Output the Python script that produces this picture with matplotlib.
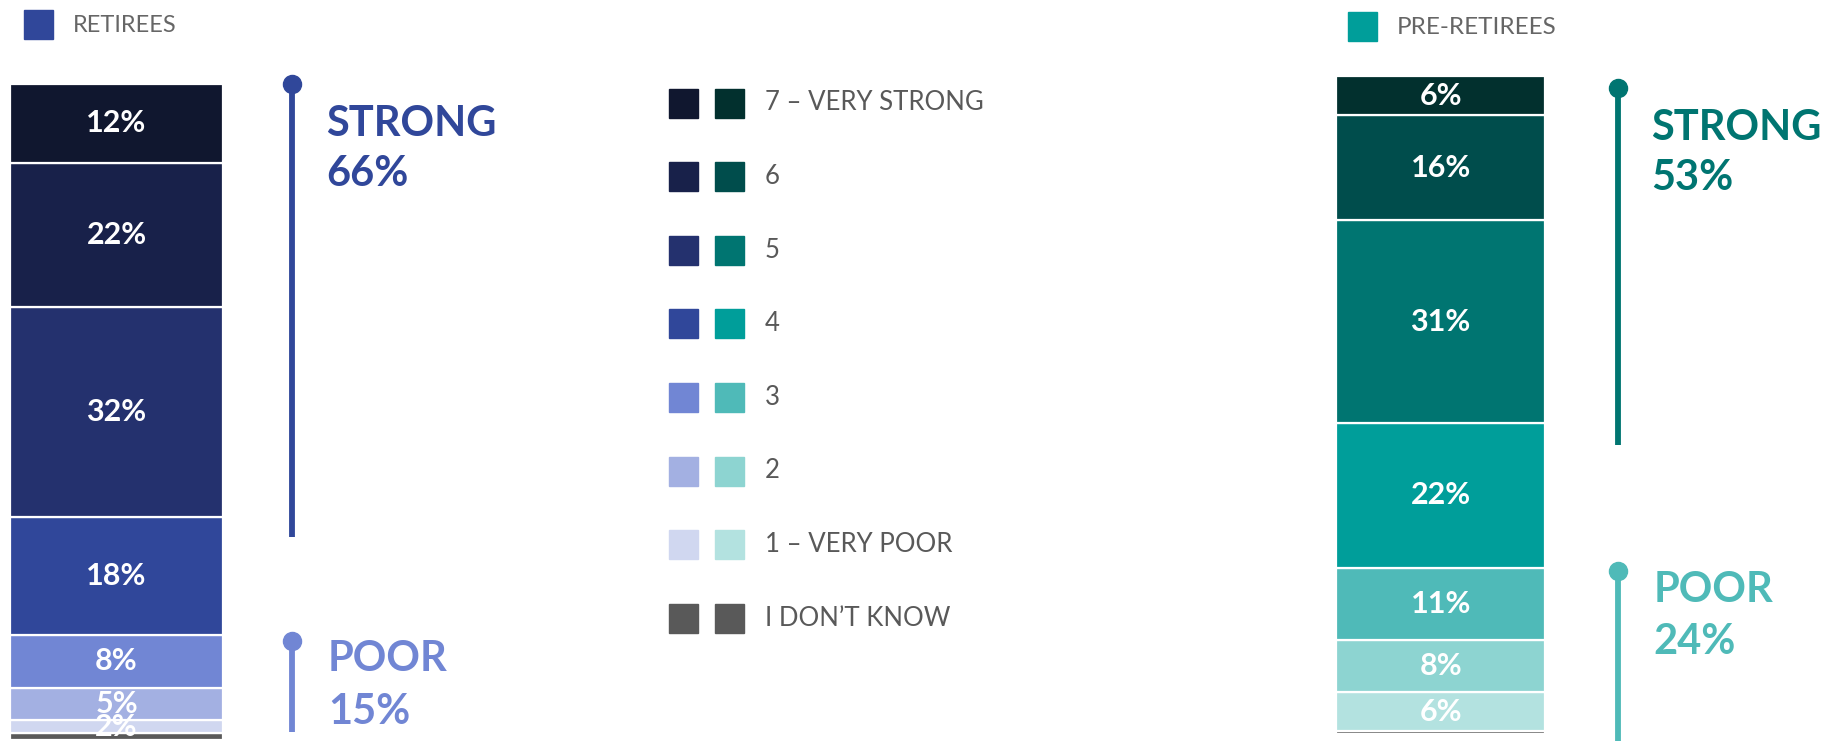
import matplotlib
matplotlib.use("Agg")
from matplotlib import pyplot as plt
from matplotlib.patches import Rectangle

plt.rcParams['font.family'] = ['Lato', 'DejaVu Sans']

# stacked from the bottom: I don't know, 1 .. 7
levels = ["I DON\u2019T KNOW", "1 \u2013 VERY POOR", "2", "3", "4", "5", "6", "7 \u2013 VERY STRONG"]
retirees = [1, 2, 5, 8, 18, 32, 22, 12]
pre_retirees = [0.4, 6, 8, 11, 22, 31, 16, 6]
retiree_colors = ["#595959", "#D0D7F0", "#A3B0E2", "#7186D4", "#30479A", "#24316E", "#18214A", "#10172F"]
pre_colors = ["#595959", "#B3E2E0", "#8DD4D1", "#4FBAB8", "#009E9A", "#007571", "#004D4C", "#02302E"]
strong = {"retirees": 66, "pre": 53}
poor = {"retirees": 15, "pre": 24}

W, H = 1832, 741
fig = plt.figure(figsize=(W / 100, H / 100), dpi=100)


def px_axes(x0, y0, x1, y1):
    # pixel box (top-left origin) -> figure axes
    return fig.add_axes([x0 / W, (H - y1) / H, (x1 - x0) / W, (y1 - y0) / H])


def draw_group(ax, vals, colors, strong_val, poor_val, strong_col, poor_col, bar_w, line_x, dots):
    total = sum(vals)
    bottom = 0
    for i, (v, c) in enumerate(zip(vals, colors)):
        ax.bar(0, v, width=bar_w, bottom=bottom, align='edge', color=c,
               edgecolor='white', linewidth=1.6)
        if i > 0:
            ax.text(bar_w / 2, bottom + v / 2, f"{v}%", color='white', fontsize=22,
                    fontweight='bold', ha='center', va='center')
        bottom += v
    ax.set_xlim(0, 500)
    ax.set_ylim(0, total)
    ax.axis('off')

    s_top, p_top, s_len, p_end = dots
    ax.plot([line_x, line_x], [s_top, s_top - s_len], color=strong_col, lw=4.2,
            solid_capstyle='butt', clip_on=False)
    ax.plot([line_x], [s_top], 'o', color=strong_col, ms=13, clip_on=False)
    ax.text(line_x + 34, s_top - 8, "STRONG", color=strong_col, fontsize=30,
            fontweight='bold', va='baseline', ha='left')
    ax.text(line_x + 34, s_top - 15.6, f"{strong_val}%", color=strong_col, fontsize=30,
            fontweight='bold', va='baseline', ha='left')

    ax.plot([line_x, line_x], [p_top, p_end], color=poor_col, lw=4.2,
            solid_capstyle='butt', clip_on=False)
    ax.plot([line_x], [p_top], 'o', color=poor_col, ms=13, clip_on=False)
    ax.text(line_x + 36, p_top - 4.6, "POOR", color=poor_col, fontsize=30,
            fontweight='bold', va='baseline', ha='left')
    ax.text(line_x + 36, p_top - 12.6, f"{poor_val}%", color=poor_col, fontsize=30,
            fontweight='bold', va='baseline', ha='left')


ax_l = px_axes(10, 84, 510, 740)
draw_group(ax_l, retirees, retiree_colors, strong["retirees"], poor["retirees"],
           retiree_colors[4], retiree_colors[3], 213, 282,
           (100, 15.1, 69, 1.2))

ax_r = px_axes(1336, 76, 1832, 734)
draw_group(ax_r, pre_retirees, pre_colors, strong["pre"], poor["pre"],
           pre_colors[5], pre_colors[3], 211, 284,
           (98.6, 24.8, 54.5, -1.2))

# legend layer in pixel units
lg = fig.add_axes([0, 0, 1, 1])
lg.set_xlim(0, W)
lg.set_ylim(H, 0)
lg.axis('off')

lg.add_patch(Rectangle((24, 10), 29, 29, color=retiree_colors[4]))
lg.text(73, 25, "RETIREES", color='#666666', fontsize=17, va='center', ha='left')
lg.add_patch(Rectangle((1348, 12), 29, 29, color=pre_colors[4]))
lg.text(1397, 27, "PRE-RETIREES", color='#666666', fontsize=17.5, va='center', ha='left')

for row, i in enumerate(range(len(levels) - 1, -1, -1)):
    yc = 103 + row * 73.6
    lg.add_patch(Rectangle((669, yc - 14.5), 29, 29, color=retiree_colors[i]))
    lg.add_patch(Rectangle((715, yc - 14.5), 29, 29, color=pre_colors[i]))
    lg.text(765, yc, levels[i], color='#595959', fontsize=18.5, va='center', ha='left')

fig.savefig("out.png", dpi=100)
